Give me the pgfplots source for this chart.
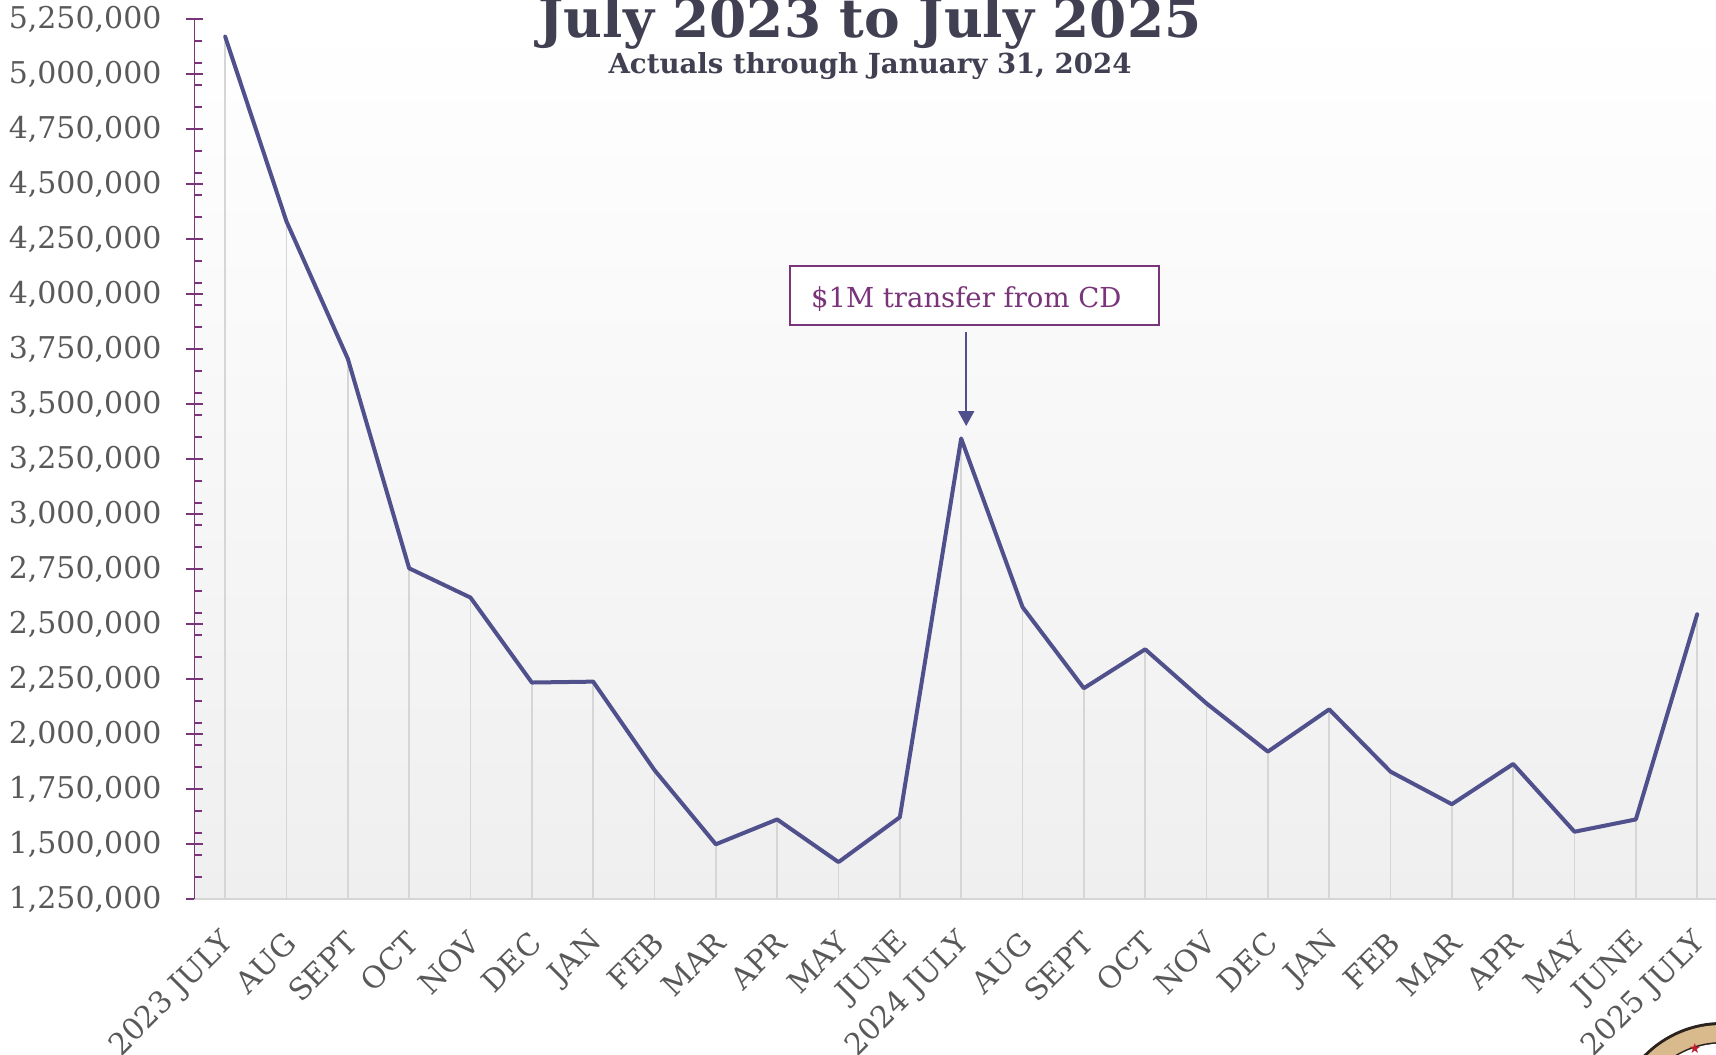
\documentclass[border=0pt]{standalone}
\usepackage{fontspec}
\setmainfont{DejaVu Serif}
\newfontfamily\symfont{DejaVu Sans}
\usepackage{pgfplots}
\pgfplotsset{compat=1.18}
\usetikzlibrary{arrows.meta}
\definecolor{linec}{RGB}{80,81,140}
\definecolor{axpurple}{RGB}{122,52,122}
\definecolor{titlec}{RGB}{64,64,82}
\definecolor{labgray}{RGB}{89,89,89}
\definecolor{gridc}{RGB}{214,214,214}
\definecolor{bgbot}{RGB}{239,239,239}
\definecolor{logodark}{RGB}{45,35,30}
\definecolor{logotan}{RGB}{216,186,140}
\definecolor{logored}{RGB}{190,30,45}
\begin{document}
\begin{tikzpicture}
\useasboundingbox (-97.25bp,-77.85bp) rectangle (760.75bp,449.65bp);
\clip (-97.25bp,-77.85bp) rectangle (760.75bp,449.65bp);
\begin{axis}[
  at={(0,0)}, anchor=south west,
  scale only axis, width=766.67bp, height=440.15bp,
  xmin=-0.5, xmax=24.5, ymin=1250000, ymax=5250000,
  axis lines*=left,
  axis background/.style={shade, top color=white, bottom color=bgbot},
  x axis line style={draw=gridc, line width=1bp},
  y axis line style={draw=axpurple, line width=0.85bp},
  xtick={0,...,24},
  xticklabels={2023 JULY,AUG,SEPT,OCT,NOV,DEC,JAN,FEB,MAR,APR,MAY,JUNE,2024 JULY,AUG,SEPT,OCT,NOV,DEC,JAN,FEB,MAR,APR,MAY,JUNE,2025 JULY},
  xtick style={draw=none},
  ytick={1250000,1500000,1750000,2000000,2250000,2500000,2750000,3000000,3250000,3500000,3750000,4000000,4250000,4500000,4750000,5000000,5250000},
  ytick style={draw=axpurple, line width=0.85bp},
  tick align=center,
  major tick length=8.5bp,
  extra y ticks={1350000,1450000,1550000,1650000,1750000,1850000,1950000,2050000,2150000,2250000,2350000,2450000,2550000,2650000,2750000,2850000,2950000,3050000,3150000,3250000,3350000,3450000,3550000,3650000,3750000,3850000,3950000,4050000,4150000,4250000,4350000,4450000,4550000,4650000,4750000,4850000,4950000,5050000,5150000},
  extra y tick labels={},
  extra y tick style={tick align=inside, major tick length=4bp},
  scaled y ticks=false,
  /pgf/number format/assume math mode=true,
  y tick label style={/pgf/number format/.cd, fixed, 1000 sep={,}, /tikz/.cd,
     font=\fontsize{15bp}{18bp}\selectfont, text=labgray, xshift=-8.75bp},
  x tick label style={font=\fontsize{15bp}{18bp}\selectfont, text=labgray,
     xshift=4.5bp, yshift=-12.5bp, rotate=45, anchor=east},
]
\addplot[ycomb, draw=gridc, line width=0.8bp, no marks] coordinates {
(0,5170000) (1,4330000) (2,3706000) (3,2754000) (4,2621000) (5,2235000)
(6,2239000) (7,1837000) (8,1500000) (9,1613000) (10,1419000) (11,1623000)
(12,3344000) (13,2578000) (14,2209000) (15,2386000) (16,2140000) (17,1921000)
(18,2113000) (19,1830000) (20,1682000) (21,1865000) (22,1557000) (23,1613000)
(24,2545000)};
\addplot[linec, line width=2bp, line join=round, line cap=round, no marks] coordinates {
(0,5170000) (1,4330000) (2,3706000) (3,2754000) (4,2621000) (5,2235000)
(6,2239000) (7,1837000) (8,1500000) (9,1613000) (10,1419000) (11,1623000)
(12,3344000) (13,2578000) (14,2209000) (15,2386000) (16,2140000) (17,1921000)
(18,2113000) (19,1830000) (20,1682000) (21,1865000) (22,1557000) (23,1613000)
(24,2545000)};
\draw[axpurple, line width=1bp, fill=white] (axis cs:9.204,3859300) rectangle (axis cs:15.22,4127300);
\node[anchor=base west, inner sep=0pt, text=axpurple, font=\fontsize{13.75bp}{16bp}\selectfont] at (axis cs:9.546,3938800) {\$1M transfer from CD};
\draw[linec, line width=1bp, -{Triangle[width=8bp,length=7.5bp]}] (axis cs:12.082,3829300) -- (axis cs:12.082,3400400);
\end{axis}
\node[anchor=base, inner sep=0pt, font=\fontsize{26.7bp}{32bp}\selectfont\bfseries, text=titlec] at (337.75bp,430.65bp) {July 2023 to July 2025};
\node[anchor=base, inner sep=0pt, font=\fontsize{13.8bp}{16bp}\selectfont\bfseries, text=titlec] at (337.75bp,412.65bp) {Actuals through January 31, 2024};
% emblem at the bottom-right corner
\fill[logodark] (763.75bp,-116.35bp) circle (55bp);
\fill[logotan] (763.75bp,-116.35bp) circle (53.5bp);
\fill[logodark] (763.75bp,-116.35bp) circle (45bp);
\fill[white] (763.75bp,-116.35bp) circle (44.2bp);
\node[text=logored, inner sep=0pt, font=\symfont\fontsize{7bp}{8bp}\selectfont] at (750.25bp,-74.5bp) {★};
\end{tikzpicture}
\end{document}
